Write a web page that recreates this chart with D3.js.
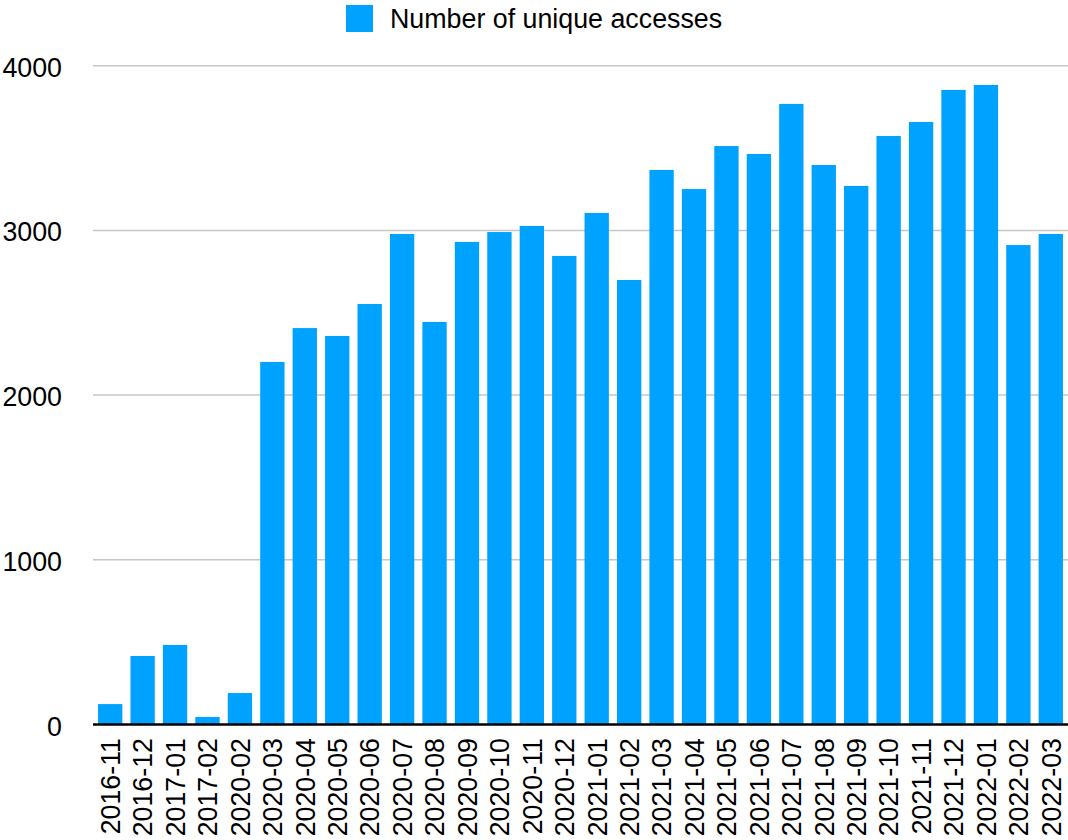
<!DOCTYPE html>
<html>
<head>
<meta charset="utf-8">
<script src="https://cdn.jsdelivr.net/npm/d3@7"></script>
<style>
  html, body { margin: 0; padding: 0; background: #fff; }
  svg { display: block; }
  text { font-family: "Liberation Sans", Arial, Helvetica, sans-serif; fill: #000; }
</style>
</head>
<body>
<svg id="chart" width="1068" height="840"></svg>
<script>
// Monthly counts of unique accesses
const months = [
  "2016-11", "2016-12", "2017-01", "2017-02", "2020-02", "2020-03",
  "2020-04", "2020-05", "2020-06", "2020-07", "2020-08", "2020-09",
  "2020-10", "2020-11", "2020-12", "2021-01", "2021-02", "2021-03",
  "2021-04", "2021-05", "2021-06", "2021-07", "2021-08", "2021-09",
  "2021-10", "2021-11", "2021-12", "2022-01", "2022-02", "2022-03"
];
const uniqueAccesses = [
  124, 416, 483, 46, 191, 2201,
  2407, 2359, 2553, 2978, 2444, 2930,
  2990, 3027, 2845, 3106, 2699, 3367,
  3251, 3512, 3464, 3768, 3397, 3270,
  3573, 3658, 3853, 3883, 2911, 2978
];
const yTicks = [0, 1000, 2000, 3000, 4000];
const seriesName = "Number of unique accesses";

const barColor = "#00a2ff";
const fontSize = 26.8;
const svg = d3.select("#chart");

const plotLeft = 93, plotRight = 1068, plotTop = 65.7, plotBottom = 724.5;

const x = d3.scaleBand()
  .domain(months)
  .range([plotLeft, plotRight])
  .paddingInner(0.25)
  .paddingOuter(0.155);

const y = d3.scaleLinear()
  .domain([0, 4000])
  .range([plotBottom, plotTop]);

// Horizontal grid lines
svg.append("g")
  .selectAll("line")
  .data(yTicks.filter(t => t > 0))
  .join("line")
  .attr("x1", plotLeft)
  .attr("x2", plotRight)
  .attr("y1", d => y(d))
  .attr("y2", d => y(d))
  .attr("stroke", "#c6c6c6")
  .attr("stroke-width", 1.5);

// Y tick labels
svg.append("g")
  .selectAll("text")
  .data(yTicks)
  .join("text")
  .attr("x", 62)
  .attr("y", d => y(d) + 11)
  .attr("text-anchor", "end")
  .attr("font-size", fontSize)
  .text(d => d);

// Bars
svg.append("g")
  .selectAll("rect")
  .data(months.map((m, i) => ({ m, v: uniqueAccesses[i] })))
  .join("rect")
  .attr("x", d => x(d.m))
  .attr("width", x.bandwidth())
  .attr("y", d => y(d.v))
  .attr("height", d => y(0) - y(d.v))
  .attr("fill", barColor);

// Baseline
svg.append("line")
  .attr("x1", plotLeft)
  .attr("x2", plotRight)
  .attr("y1", y(0))
  .attr("y2", y(0))
  .attr("stroke", "#000")
  .attr("stroke-width", 2.7);

// Rotated category labels
svg.append("g")
  .selectAll("text")
  .data(months)
  .join("text")
  .attr("transform", d => `translate(${x(d) + x.bandwidth() / 2 + 9.8},738) rotate(-90)`)
  .attr("text-anchor", "end")
  .attr("font-size", fontSize)
  .text(d => d);

// Legend
const legend = svg.append("g");
legend.append("rect")
  .attr("x", 346)
  .attr("y", 5)
  .attr("width", 27)
  .attr("height", 27)
  .attr("fill", barColor);
legend.append("text")
  .attr("x", 390)
  .attr("y", 28)
  .attr("font-size", fontSize)
  .text(seriesName);
</script>
</body>
</html>
